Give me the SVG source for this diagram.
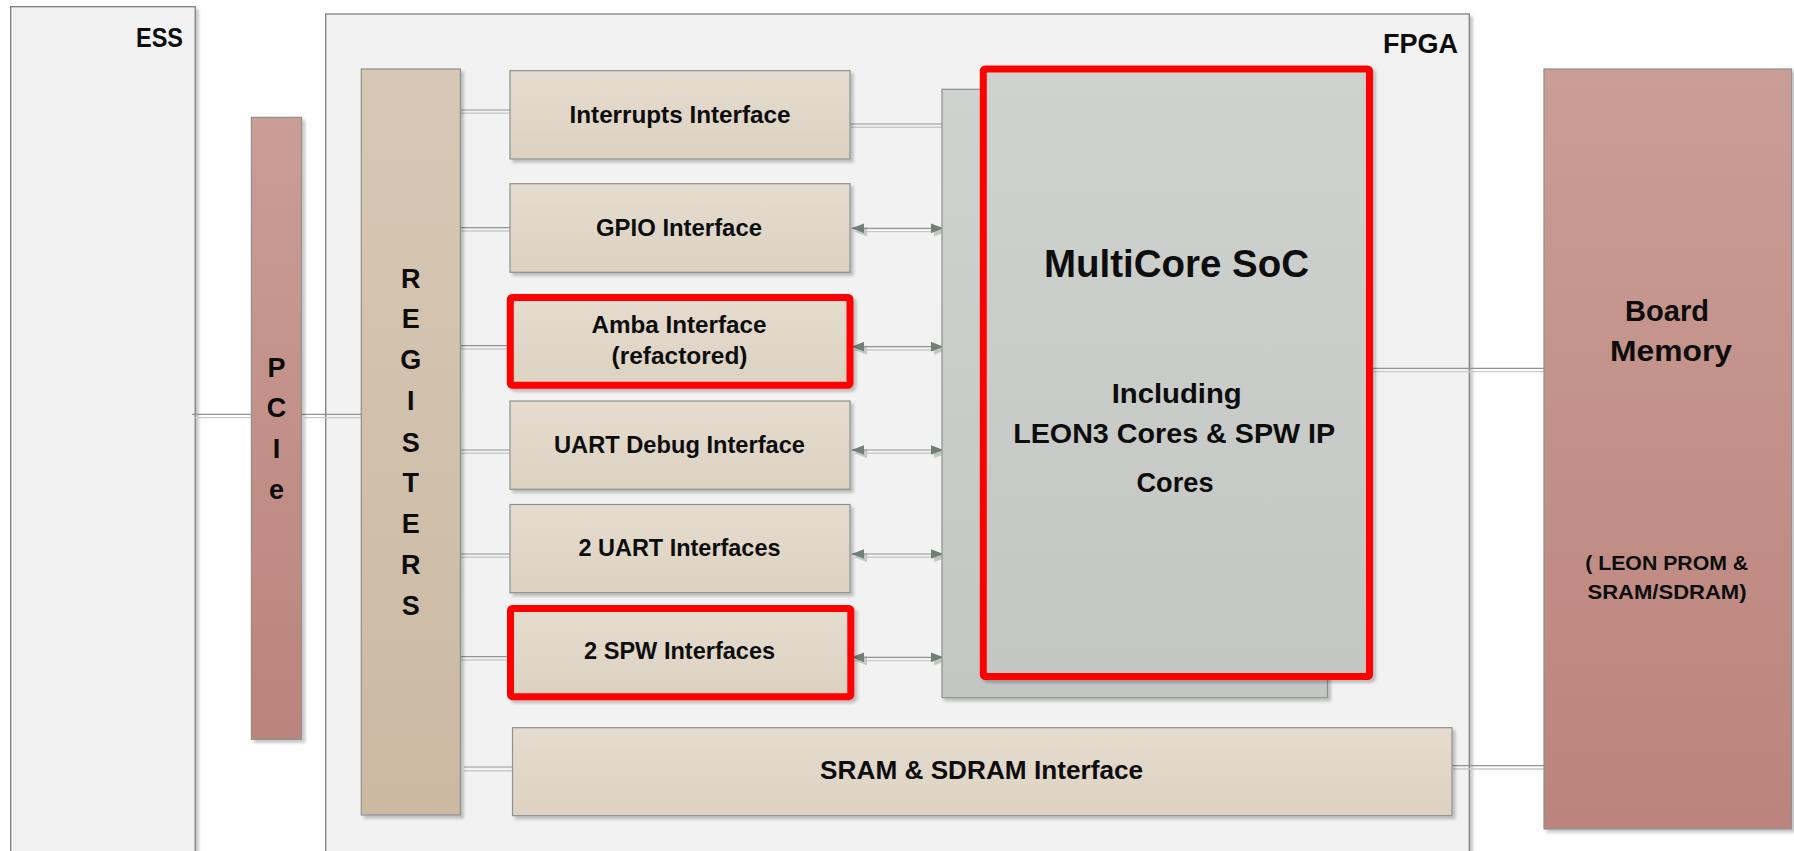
<svg xmlns="http://www.w3.org/2000/svg" width="1794" height="851" viewBox="0 0 1794 851">
  <defs>
    <style>
      .lbl { font-family: "Liberation Sans", Arial, sans-serif; font-weight: bold; fill: #0d0d0d; }
      .mid { text-anchor: middle; }
      .end { text-anchor: end; }
      .frame { fill: #f2f2f2; stroke: #7f7f7f; stroke-width: 1.3; }
      .box { stroke: #8b928e; stroke-width: 1.2; }
      .hl { stroke: #ff0000; stroke-width: 7; }
      .conn { fill: none; stroke: #8f9692; stroke-width: 1.2; }
      .conn-sh { fill: none; stroke: #c9cbca; stroke-width: 1.4; }
    </style>
    <linearGradient id="gTan" x1="0" y1="0" x2="0" y2="1">
      <stop offset="0" stop-color="#e5dccf"/>
      <stop offset="1" stop-color="#ddd2c1"/>
    </linearGradient>
    <linearGradient id="gReg" x1="0" y1="0" x2="0" y2="1">
      <stop offset="0" stop-color="#d7c8b5"/>
      <stop offset="1" stop-color="#cbb9a2"/>
    </linearGradient>
    <linearGradient id="gRose" x1="0" y1="0" x2="0" y2="1">
      <stop offset="0" stop-color="#ca9d96"/>
      <stop offset="1" stop-color="#bb847c"/>
    </linearGradient>
    <linearGradient id="gGrey" x1="0" y1="0" x2="0" y2="1">
      <stop offset="0" stop-color="#cfd3cf"/>
      <stop offset="1" stop-color="#c3c6c2"/>
    </linearGradient>
    <filter id="shadow" x="-5%" y="-5%" width="115%" height="115%">
      <feDropShadow dx="3" dy="3" stdDeviation="1.5" flood-color="#000000" flood-opacity="0.22"/>
    </filter>
    <marker id="arrow" viewBox="0 0 13 10" refX="12.7" refY="5" markerWidth="13" markerHeight="10" markerUnits="userSpaceOnUse" orient="auto-start-reverse">
      <path d="M0,0 L13,5 L0,10 z" fill="#718077"/>
    </marker>
    <marker id="arrowSh" viewBox="0 0 13 10" refX="12.7" refY="5" markerWidth="13" markerHeight="10" markerUnits="userSpaceOnUse" orient="auto-start-reverse">
      <path d="M0,0 L13,5 L0,10 z" fill="#c4c8c5"/>
    </marker>
  </defs>

  <rect x="0" y="0" width="1794" height="851" fill="#ffffff"/>

  <!-- outer frames -->
  <g id="ess">
    <rect class="frame" x="10.7" y="6.7" width="184.5" height="870" filter="url(#shadow)"/>
    <text class="lbl end" x="183" y="46.7" font-size="27" textLength="47" lengthAdjust="spacingAndGlyphs">ESS</text>
  </g>
  <g id="fpga">
    <rect class="frame" x="325.7" y="14" width="1143.6" height="870" filter="url(#shadow)"/>
    <text class="lbl end" x="1458" y="53.3" font-size="27" textLength="75" lengthAdjust="spacingAndGlyphs">FPGA</text>
  </g>

  <!-- connectors -->
  <g id="connectors">
    <g class="shadows">
      <path class="conn-sh" d="M195,417.6 H254.4"/>
      <path class="conn-sh" d="M304.6,417.6 H364.5"/>
      <path class="conn-sh" d="M461,113.3 H513"/>
      <path class="conn-sh" d="M461,231 H513"/>
      <path class="conn-sh" d="M461,349 H513"/>
      <path class="conn-sh" d="M461,453.3 H513"/>
      <path class="conn-sh" d="M461,557.3 H513"/>
      <path class="conn-sh" d="M461,660 H513"/>
      <path class="conn-sh" d="M464,770.7 H517"/>
      <path class="conn-sh" d="M851,127.3 H945"/>
      <path class="conn-sh" d="M1370,371.6 H1547"/>
      <path class="conn-sh" d="M1453,769 H1547"/>
      <path class="conn-sh" d="M854.7,231.6 H946.3" marker-start="url(#arrowSh)" marker-end="url(#arrowSh)"/>
      <path class="conn-sh" d="M854.7,350 H946.3" marker-start="url(#arrowSh)" marker-end="url(#arrowSh)"/>
      <path class="conn-sh" d="M854.7,453.3 H946.3" marker-start="url(#arrowSh)" marker-end="url(#arrowSh)"/>
      <path class="conn-sh" d="M854.7,557.3 H946.3" marker-start="url(#arrowSh)" marker-end="url(#arrowSh)"/>
      <path class="conn-sh" d="M854.7,660.6 H946.3" marker-start="url(#arrowSh)" marker-end="url(#arrowSh)"/>
    </g>
    <g class="lines">
      <path class="conn" d="M192,414.3 H251.4"/>
      <path class="conn" d="M301.6,414.3 H361.3"/>
      <path class="conn" d="M460.4,110 H510"/>
      <path class="conn" d="M460.4,227.7 H510"/>
      <path class="conn" d="M460.4,345.7 H510"/>
      <path class="conn" d="M460.4,450 H510"/>
      <path class="conn" d="M460.4,554 H510"/>
      <path class="conn" d="M460.4,656.7 H510"/>
      <path class="conn" d="M464,767 H512.5"/>
      <path class="conn" d="M850,124 H942"/>
      <path class="conn" d="M1369.5,368.3 H1544"/>
      <path class="conn" d="M1452,765.7 H1544"/>
      <path class="conn" d="M851.7,228.3 H943.3" marker-start="url(#arrow)" marker-end="url(#arrow)"/>
      <path class="conn" d="M851.7,346.7 H943.3" marker-start="url(#arrow)" marker-end="url(#arrow)"/>
      <path class="conn" d="M851.7,450 H943.3" marker-start="url(#arrow)" marker-end="url(#arrow)"/>
      <path class="conn" d="M851.7,554 H943.3" marker-start="url(#arrow)" marker-end="url(#arrow)"/>
      <path class="conn" d="M851.7,657.3 H943.3" marker-start="url(#arrow)" marker-end="url(#arrow)"/>
    </g>
  </g>

  <!-- PCIe bridge -->
  <g id="pcie">
    <rect class="box" x="251.4" y="117.3" width="50.2" height="622" fill="url(#gRose)" filter="url(#shadow)"/>
    <text class="lbl mid" x="276.5" y="376.7" font-size="27">P</text>
    <text class="lbl mid" x="276.5" y="417.3" font-size="27">C</text>
    <text class="lbl mid" x="276.5" y="458.3" font-size="27">I</text>
    <text class="lbl mid" x="276.5" y="499.3" font-size="27">e</text>
  </g>

  <!-- register bank -->
  <g id="registers">
    <rect class="box" x="361.3" y="69" width="99.1" height="746" fill="url(#gReg)" filter="url(#shadow)"/>
    <text class="lbl mid" x="410.8" y="288.3" font-size="27">R</text>
    <text class="lbl mid" x="410.8" y="328.3" font-size="27">E</text>
    <text class="lbl mid" x="410.8" y="369" font-size="27">G</text>
    <text class="lbl mid" x="410.8" y="410" font-size="27">I</text>
    <text class="lbl mid" x="410.8" y="451.7" font-size="27">S</text>
    <text class="lbl mid" x="410.8" y="492.3" font-size="27">T</text>
    <text class="lbl mid" x="410.8" y="533.3" font-size="27">E</text>
    <text class="lbl mid" x="410.8" y="574" font-size="27">R</text>
    <text class="lbl mid" x="410.8" y="615" font-size="27">S</text>
  </g>

  <!-- peripheral interfaces -->
  <g id="irq-if">
    <rect class="box" x="510" y="70.7" width="340" height="88.3" fill="url(#gTan)" filter="url(#shadow)"/>
    <text class="lbl mid" x="680" y="122.5" font-size="24" textLength="221" lengthAdjust="spacingAndGlyphs">Interrupts Interface</text>
  </g>
  <g id="gpio-if">
    <rect class="box" x="510" y="183.7" width="340" height="88.6" fill="url(#gTan)" filter="url(#shadow)"/>
    <text class="lbl mid" x="679" y="235.5" font-size="24" textLength="166" lengthAdjust="spacingAndGlyphs">GPIO Interface</text>
  </g>
  <g id="amba-if">
    <rect class="hl" x="510.3" y="297.5" width="339.7" height="87.8" rx="2" fill="url(#gTan)" filter="url(#shadow)"/>
    <text class="lbl mid" x="679" y="332.7" font-size="24" textLength="175" lengthAdjust="spacingAndGlyphs">Amba Interface</text>
    <text class="lbl mid" x="679.5" y="363.5" font-size="24" textLength="136" lengthAdjust="spacingAndGlyphs">(refactored)</text>
  </g>
  <g id="uart-dbg-if">
    <rect class="box" x="510" y="401" width="340" height="88.3" fill="url(#gTan)" filter="url(#shadow)"/>
    <text class="lbl mid" x="679.5" y="452.7" font-size="24" textLength="251" lengthAdjust="spacingAndGlyphs">UART Debug Interface</text>
  </g>
  <g id="uart-if">
    <rect class="box" x="510" y="504.5" width="340" height="88.2" fill="url(#gTan)" filter="url(#shadow)"/>
    <text class="lbl mid" x="679.5" y="556" font-size="24" textLength="202" lengthAdjust="spacingAndGlyphs">2 UART Interfaces</text>
  </g>
  <g id="spw-if">
    <rect class="hl" x="510.5" y="608.4" width="340.3" height="88.3" rx="2" fill="url(#gTan)" filter="url(#shadow)"/>
    <text class="lbl mid" x="679.6" y="659.3" font-size="24" textLength="191" lengthAdjust="spacingAndGlyphs">2 SPW Interfaces</text>
  </g>
  <g id="sram-if">
    <rect class="box" x="512.5" y="727.7" width="939.5" height="88" fill="url(#gTan)" filter="url(#shadow)"/>
    <text class="lbl mid" x="981.6" y="779.3" font-size="26" textLength="323" lengthAdjust="spacingAndGlyphs">SRAM &amp; SDRAM Interface</text>
  </g>

  <!-- processor system -->
  <g id="soc">
    <rect class="box" x="942" y="89.3" width="385.4" height="608.4" fill="url(#gGrey)" filter="url(#shadow)"/>
    <rect class="hl" x="983.3" y="69" width="386.2" height="607.5" rx="2" fill="url(#gGrey)" filter="url(#shadow)"/>
    <text class="lbl mid" x="1176.5" y="277.3" font-size="38" textLength="265" lengthAdjust="spacingAndGlyphs">MultiCore SoC</text>
    <text class="lbl mid" x="1176.7" y="403.3" font-size="28" textLength="130" lengthAdjust="spacingAndGlyphs">Including</text>
    <text class="lbl mid" x="1174.2" y="443.3" font-size="28" textLength="322" lengthAdjust="spacingAndGlyphs">LEON3 Cores &amp; SPW IP</text>
    <text class="lbl mid" x="1175" y="491.7" font-size="28" textLength="77" lengthAdjust="spacingAndGlyphs">Cores</text>
  </g>

  <!-- external memory -->
  <g id="board-memory">
    <rect class="box" x="1544" y="69" width="247.7" height="760" fill="url(#gRose)" filter="url(#shadow)"/>
    <text class="lbl mid" x="1667" y="320.7" font-size="30" textLength="84" lengthAdjust="spacingAndGlyphs">Board</text>
    <text class="lbl mid" x="1671" y="360.7" font-size="30" textLength="122" lengthAdjust="spacingAndGlyphs">Memory</text>
    <text class="lbl mid" x="1666.7" y="570" font-size="21" textLength="163" lengthAdjust="spacingAndGlyphs">( LEON PROM &amp;</text>
    <text class="lbl mid" x="1667" y="599.3" font-size="21" textLength="159" lengthAdjust="spacingAndGlyphs">SRAM/SDRAM)</text>
  </g>
</svg>
